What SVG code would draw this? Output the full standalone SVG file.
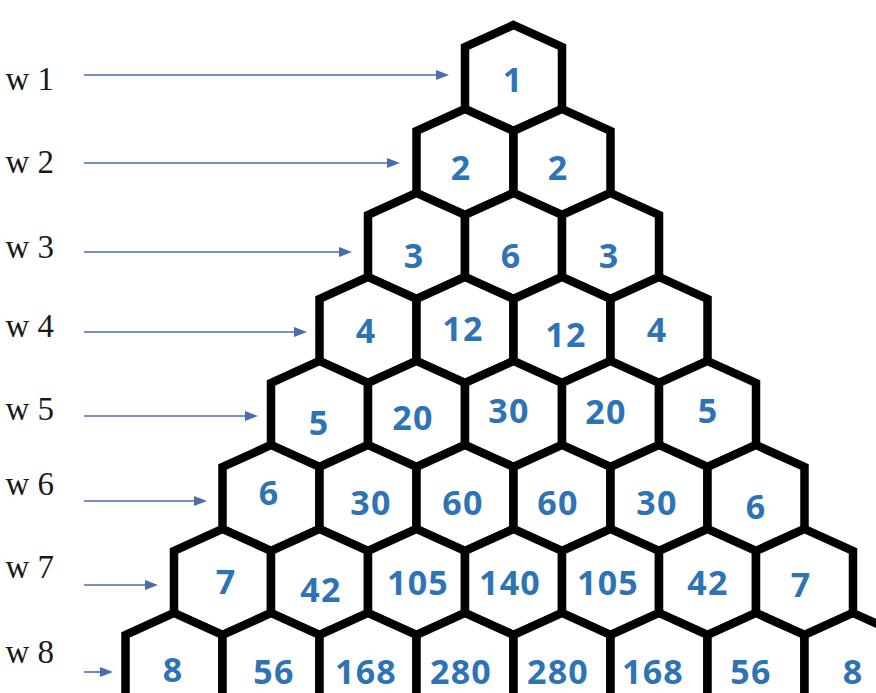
<svg xmlns="http://www.w3.org/2000/svg" xmlns:xlink="http://www.w3.org/1999/xlink" width="876" height="693" viewBox="0 0 876 693">
<style>
.hex{fill:#fff;stroke:#000;stroke-width:8.5;stroke-linejoin:miter}
.num{font-family:"Open Sans","Liberation Sans",sans-serif;font-weight:700;font-size:34px;fill:#2E74B5;text-anchor:middle;letter-spacing:1.2px}
.lbl{font-family:"Liberation Serif","Times New Roman",serif;font-size:33px;fill:#1a1a1a;text-anchor:end}
.arr{stroke:#4A6DB0;stroke-width:1.6;fill:none;marker-end:url(#ah)}
</style>
<defs>
<polygon id="hex" class="hex" points="0,-53 48.5,-31 48.5,31 0,53 -48.5,31 -48.5,-31"/>
<marker id="ah" markerUnits="userSpaceOnUse" markerWidth="13" markerHeight="10" refX="7" refY="5" orient="auto">
<path d="M0,0 L13,5 L0,10 z" fill="#4A6DB0"/>
</marker>
</defs>
<rect width="876" height="693" fill="#fff"/>
<g id="labels">
<text class="lbl" x="54" y="90">w 1</text>
<text class="lbl" x="54" y="173">w 2</text>
<text class="lbl" x="54" y="258">w 3</text>
<text class="lbl" x="54" y="337">w 4</text>
<text class="lbl" x="54" y="420">w 5</text>
<text class="lbl" x="54" y="495">w 6</text>
<text class="lbl" x="54" y="578">w 7</text>
<text class="lbl" x="54" y="663">w 8</text>
</g>
<g id="connectors">
<line class="arr" x1="84" y1="75" x2="443" y2="75"/>
<line class="arr" x1="84" y1="163" x2="394" y2="163"/>
<line class="arr" x1="84" y1="252" x2="346" y2="252"/>
<line class="arr" x1="84" y1="332" x2="301" y2="332"/>
<line class="arr" x1="84" y1="416" x2="252" y2="416"/>
<line class="arr" x1="84" y1="501" x2="201" y2="501"/>
<line class="arr" x1="84" y1="585" x2="152" y2="585"/>
<line class="arr" x1="84" y1="672" x2="107" y2="672"/>
</g>
<g id="r1">
<g id="h1_1"><use href="#hex" x="513.5" y="78"/><text class="num" x="513" y="92">1</text></g>
</g>
<g id="r2">
<g id="h2_1"><use href="#hex" x="465" y="162"/><text class="num" x="461" y="180">2</text></g>
<g id="h2_2"><use href="#hex" x="562" y="162"/><text class="num" x="558" y="180">2</text></g>
</g>
<g id="r3">
<g id="h3_1"><use href="#hex" x="416.5" y="246"/><text class="num" x="414" y="268">3</text></g>
<g id="h3_2"><use href="#hex" x="513.5" y="246"/><text class="num" x="511" y="268">6</text></g>
<g id="h3_3"><use href="#hex" x="610.5" y="246"/><text class="num" x="609" y="268">3</text></g>
</g>
<g id="r4">
<g id="h4_1"><use href="#hex" x="368" y="330"/><text class="num" x="366" y="343">4</text></g>
<g id="h4_2"><use href="#hex" x="465" y="330"/><text class="num" x="463" y="341">12</text></g>
<g id="h4_3"><use href="#hex" x="562" y="330"/><text class="num" x="566" y="347">12</text></g>
<g id="h4_4"><use href="#hex" x="659" y="330"/><text class="num" x="657" y="342">4</text></g>
</g>
<g id="r5">
<g id="h5_1"><use href="#hex" x="319.5" y="414"/><text class="num" x="319" y="435">5</text></g>
<g id="h5_2"><use href="#hex" x="416.5" y="414"/><text class="num" x="413" y="430">20</text></g>
<g id="h5_3"><use href="#hex" x="513.5" y="414"/><text class="num" x="509" y="423">30</text></g>
<g id="h5_4"><use href="#hex" x="610.5" y="414"/><text class="num" x="606" y="424">20</text></g>
<g id="h5_5"><use href="#hex" x="707.5" y="414"/><text class="num" x="708" y="423">5</text></g>
</g>
<g id="r6">
<g id="h6_1"><use href="#hex" x="271" y="498"/><text class="num" x="269" y="505">6</text></g>
<g id="h6_2"><use href="#hex" x="368" y="498"/><text class="num" x="371" y="515">30</text></g>
<g id="h6_3"><use href="#hex" x="465" y="498"/><text class="num" x="463" y="515">60</text></g>
<g id="h6_4"><use href="#hex" x="562" y="498"/><text class="num" x="558" y="515">60</text></g>
<g id="h6_5"><use href="#hex" x="659" y="498"/><text class="num" x="657" y="515">30</text></g>
<g id="h6_6"><use href="#hex" x="756" y="498"/><text class="num" x="756" y="519">6</text></g>
</g>
<g id="r7">
<g id="h7_1"><use href="#hex" x="222.5" y="582"/><text class="num" x="226" y="594">7</text></g>
<g id="h7_2"><use href="#hex" x="319.5" y="582"/><text class="num" x="321" y="602">42</text></g>
<g id="h7_3"><use href="#hex" x="416.5" y="582"/><text class="num" x="418" y="595">105</text></g>
<g id="h7_4"><use href="#hex" x="513.5" y="582"/><text class="num" x="510" y="595">140</text></g>
<g id="h7_5"><use href="#hex" x="610.5" y="582"/><text class="num" x="608" y="595">105</text></g>
<g id="h7_6"><use href="#hex" x="707.5" y="582"/><text class="num" x="708" y="595">42</text></g>
<g id="h7_7"><use href="#hex" x="804.5" y="582"/><text class="num" x="801" y="597">7</text></g>
</g>
<g id="r8">
<g id="h8_1"><use href="#hex" x="174" y="666"/><text class="num" x="173" y="682">8</text></g>
<g id="h8_2"><use href="#hex" x="271" y="666"/><text class="num" x="274" y="684">56</text></g>
<g id="h8_3"><use href="#hex" x="368" y="666"/><text class="num" x="366" y="684">168</text></g>
<g id="h8_4"><use href="#hex" x="465" y="666"/><text class="num" x="461" y="684">280</text></g>
<g id="h8_5"><use href="#hex" x="562" y="666"/><text class="num" x="558" y="684">280</text></g>
<g id="h8_6"><use href="#hex" x="659" y="666"/><text class="num" x="653" y="684">168</text></g>
<g id="h8_7"><use href="#hex" x="756" y="666"/><text class="num" x="751" y="684">56</text></g>
<g id="h8_8"><use href="#hex" x="853" y="666"/><text class="num" x="853" y="684">8</text></g>
</g>
</svg>
